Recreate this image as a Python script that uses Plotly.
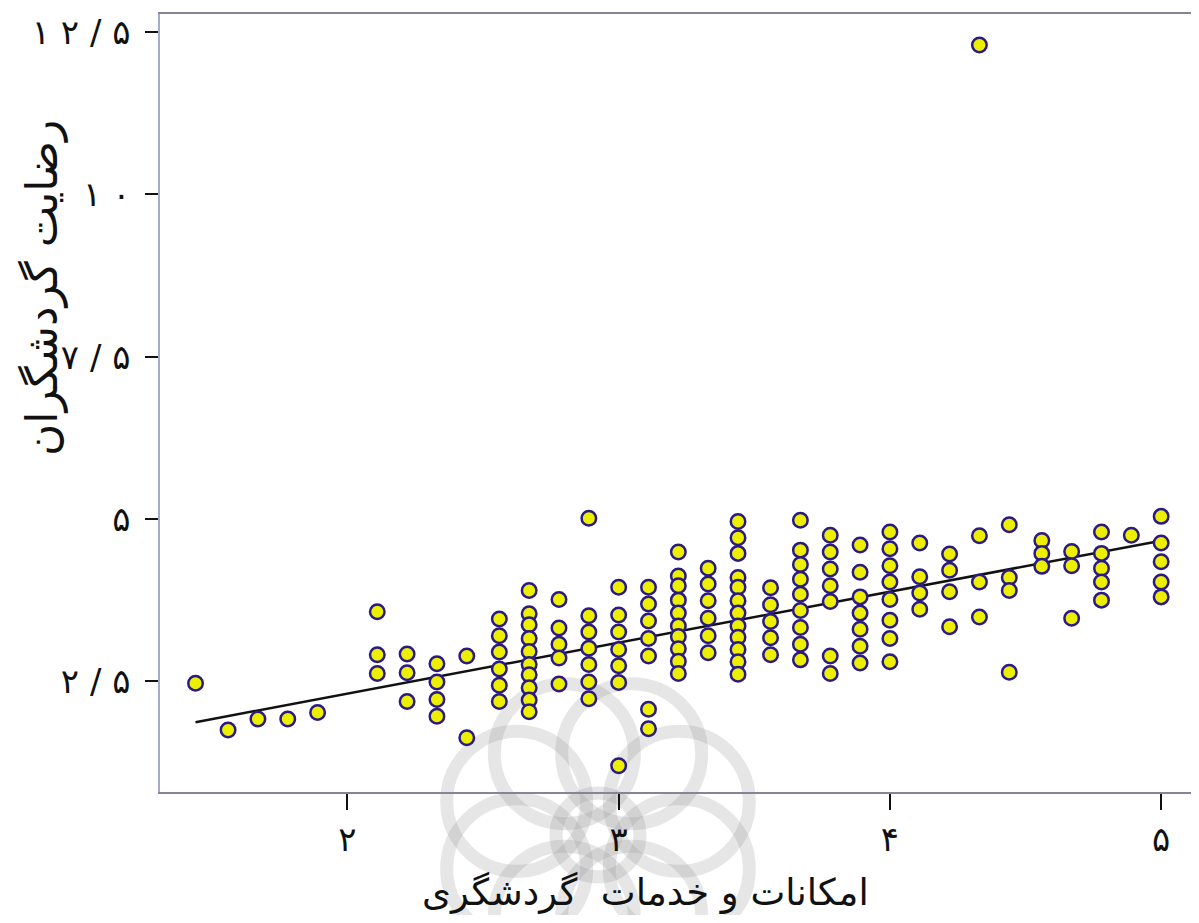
import math
import plotly.graph_objects as go

# ---- data ----
x_levels = [1.44, 1.56, 1.67, 1.78, 1.89, 2.11, 2.22, 2.33, 2.44, 2.56, 2.67, 2.78,
            2.89, 3.00, 3.11, 3.22, 3.33, 3.44, 3.56, 3.67, 3.78, 3.89, 4.00, 4.11,
            4.22, 4.33, 4.44, 4.56, 4.67, 4.78, 4.89, 5.00]

y_by_level = [
    [2.47],
    [1.75],
    [1.92],
    [1.92],
    [2.02],
    [3.57, 2.91, 2.62],
    [2.92, 2.63, 2.19],
    [2.77, 2.49, 2.22, 1.96],
    [2.89, 1.63],
    [3.46, 3.20, 2.95, 2.69, 2.44, 2.19],
    [3.90, 3.54, 3.37, 3.16, 2.96, 2.76, 2.60, 2.40, 2.21, 2.03],
    [3.76, 3.32, 3.07, 2.86, 2.46],
    [5.01, 3.51, 3.26, 3.01, 2.76, 2.49, 2.23],
    [3.95, 3.52, 3.26, 2.99, 2.74, 2.48, 1.20],
    [3.95, 3.69, 3.43, 3.16, 2.89, 2.07, 1.77],
    [4.49, 4.12, 3.97, 3.75, 3.55, 3.35, 3.19, 3.00, 2.81, 2.62],
    [4.24, 4.00, 3.74, 3.47, 3.20, 2.94],
    [4.96, 4.71, 4.47, 4.10, 3.95, 3.74, 3.55, 3.35, 3.18, 2.99, 2.80, 2.61],
    [3.94, 3.68, 3.42, 3.17, 2.91],
    [4.98, 4.52, 4.30, 4.07, 3.84, 3.59, 3.33, 3.07, 2.83],
    [4.75, 4.49, 4.23, 3.97, 3.73, 2.89, 2.62],
    [4.60, 4.18, 3.80, 3.55, 3.30, 3.04, 2.78],
    [4.80, 4.54, 4.28, 4.03, 3.76, 3.44, 3.16, 2.80],
    [4.63, 4.11, 3.86, 3.61],
    [4.46, 4.21, 3.88, 3.34],
    [12.30, 4.74, 4.03, 3.49],
    [4.91, 4.10, 3.90, 2.64],
    [4.67, 4.47, 4.27],
    [4.50, 4.28, 3.47],
    [4.80, 4.47, 4.24, 4.03, 3.75],
    [4.75],
    [5.04, 4.63, 4.34, 4.03, 3.80],
]

fit_intercept = 0.74
fit_slope = 0.785

x_tick_vals = [2, 3, 4, 5]
x_tick_text = ["۲", "۳", "۴", "۵"]
y_tick_vals = [2.5, 5, 7.5, 10, 12.5]
y_tick_text = ["۲ / ۵", "۵", "۷ / ۵", "۱ ۰", "۱ ۲ / ۵"]

x_title = "امکانات و خدمات  گردشگری"
y_title = "رضایت گردشگران"

# ---- build ----
xs, ys = [], []
for xv, col in zip(x_levels, y_by_level):
    for yv in col:
        xs.append(xv)
        ys.append(yv)

line_x = [min(xs), max(xs)]
line_y = [fit_intercept + fit_slope * v for v in line_x]

# page body has an 8px margin; figure is sized so the page fits 1199x923
OFF = 8
W, H = 1183, 907
L, R, T, B = 152, 0, 6, 123
pw, ph = W - L - R, H - T - B


def px2paper(px, py):
    # px, py are page pixel coordinates
    return (px - OFF - L) / pw, (OFF + T + ph - py) / ph


fig = go.Figure()
fig.add_trace(go.Scatter(x=line_x, y=line_y, mode="lines",
                         line=dict(color="#111111", width=2.5),
                         hoverinfo="skip", showlegend=False))
fig.add_trace(go.Scatter(x=xs, y=ys, mode="markers",
                         marker=dict(size=14.5, color="#ecf000",
                                     line=dict(color="#2a1a86", width=2.5)),
                         showlegend=False))

# faint watermark rosette (decoration in the reference)
shapes = []
wm = "rgba(140,140,140,0.22)"
cx, cy = 598, 835
for k in range(8):
    a = 2 * math.pi * k / 8 + math.pi / 8
    ox, oy = cx + 88 * math.cos(a), cy + 88 * math.sin(a)
    r = 70
    x0, y0 = px2paper(ox - r, oy + r)
    x1, y1 = px2paper(ox + r, oy - r)
    shapes.append(dict(type="circle", xref="paper", yref="paper", x0=x0, y0=y0,
                       x1=x1, y1=y1, line=dict(color=wm, width=13), layer="below"))
r = 42
x0, y0 = px2paper(cx - r, cy + r)
x1, y1 = px2paper(cx + r, cy - r)
shapes.append(dict(type="circle", xref="paper", yref="paper", x0=x0, y0=y0, x1=x1, y1=y1,
                   line=dict(color=wm, width=13), layer="below"))

font_fa = "DejaVu Sans, sans-serif"

xt_x, xt_y = px2paper(645, 893)
yt_x, yt_y = px2paper(42, 288)

fig.update_layout(
    width=W, height=H,
    margin=dict(l=L, r=R, t=T, b=B, autoexpand=False),
    paper_bgcolor="white", plot_bgcolor="white",
    shapes=shapes,
    xaxis=dict(range=[1.309, 5.110], tickvals=x_tick_vals, ticktext=x_tick_text,
               showgrid=False, zeroline=False, showline=True, mirror=True,
               linecolor="#85859a", linewidth=1.5,
               ticks="outside", ticklen=16, tickwidth=2, tickcolor="#111",
               tickfont=dict(family=font_fa, size=34, color="#111"),
               ticklabelstandoff=0),
    yaxis=dict(range=[0.795, 12.777], tickvals=y_tick_vals, ticktext=y_tick_text,
               showgrid=False, zeroline=False, showline=True,
               linecolor="#a9a9c9", linewidth=1.5,
               ticks="outside", ticklen=13, tickwidth=2, tickcolor="#111",
               tickfont=dict(family=font_fa, size=34, color="#111"),
               ticklabelstandoff=8),
    annotations=[
        dict(text=x_title, xref="paper", yref="paper",
             x=xt_x, y=xt_y, xanchor="center", yanchor="middle",
             showarrow=False, font=dict(family=font_fa, size=37, color="#111")),
        dict(text=y_title, xref="paper", yref="paper", textangle=-90,
             x=yt_x, y=yt_y, xanchor="center", yanchor="middle",
             showarrow=False, font=dict(family=font_fa, size=44, color="#111")),
    ],
)

fig.write_html("out.html")
